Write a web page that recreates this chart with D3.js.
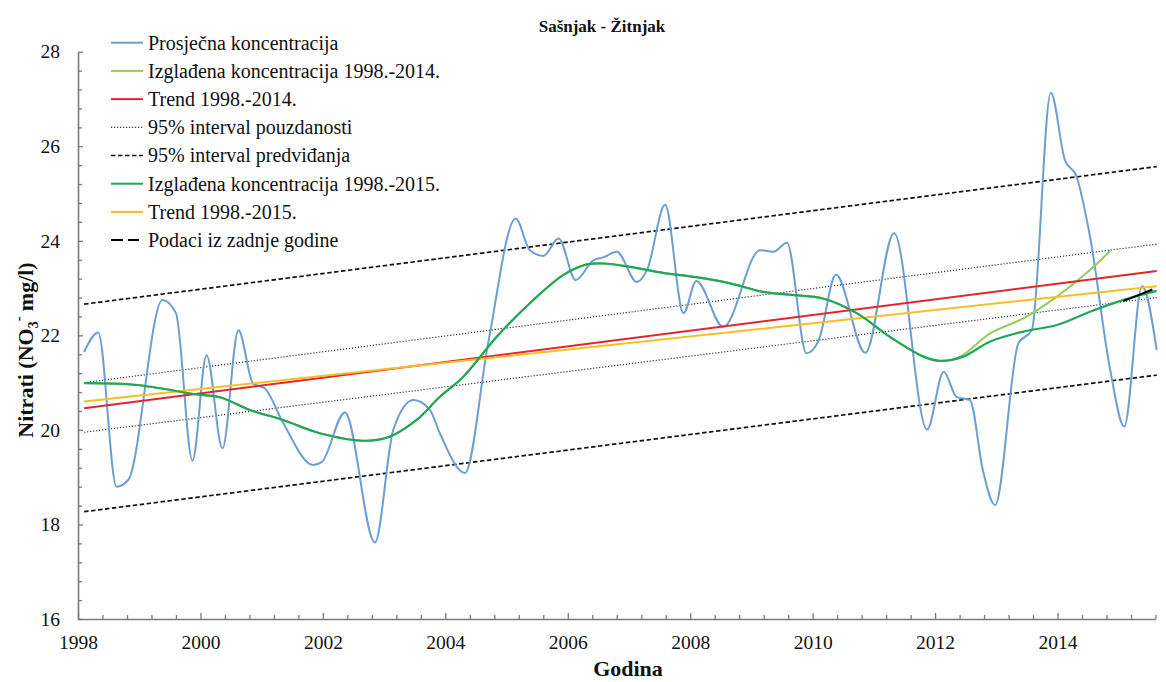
<!DOCTYPE html>
<html>
<head>
<meta charset="utf-8">
<script src="https://cdn.jsdelivr.net/npm/d3@7"></script>
<style>
  html, body { margin: 0; padding: 0; background: #fff; }
  svg { display: block; }
  svg text { font-family: "Liberation Serif", "Times New Roman", serif; }
</style>
</head>
<body>
<svg id="chart" width="1166" height="682" font-family="Liberation Serif, Times New Roman, serif"></svg>
<script>
// ---------------- DATA ----------------
const chartTitle = "Sašnjak - Žitnjak";
const xTitle = "Godina";
const xMajorTicks = [1998, 2000, 2002, 2004, 2006, 2008, 2010, 2012, 2014];
const yMajorTicks = [16, 18, 20, 22, 24, 26, 28];

// Prosječna koncentracija (year, mg/l)
const avgYears = [1998.10, 1998.33, 1998.63, 1998.82, 1999.38, 1999.60, 1999.87, 2000.10, 2000.36, 2000.62,
  2000.86, 2001.05, 2001.35, 2001.84, 2001.98, 2002.36, 2002.85, 2003.15, 2003.48, 2003.75, 2003.91,
  2004.32, 2004.70, 2005.15, 2005.38, 2005.60, 2005.85, 2006.13, 2006.42, 2006.58, 2006.80, 2007.13,
  2007.30, 2007.59, 2007.89, 2008.10, 2008.54, 2009.14, 2009.36, 2009.58, 2009.90, 2010.10, 2010.38,
  2010.86, 2011.33, 2011.87, 2012.14, 2012.35, 2012.57, 2012.78, 2012.98, 2013.36, 2013.58, 2013.89,
  2014.12, 2014.31, 2014.53, 2014.86, 2015.09, 2015.38, 2015.62];
const avgValues = [21.65, 22.06, 18.80, 18.94, 22.75, 22.47, 19.35, 21.58, 19.61, 22.11,
  20.98, 20.88, 20.15, 19.26, 19.32, 20.37, 17.62, 20.00, 20.63, 20.42, 19.93,
  19.09, 21.84, 24.47, 23.80, 23.68, 24.05, 23.17, 23.59, 23.65, 23.77, 23.13,
  23.40, 24.76, 22.47, 23.15, 22.18, 23.80, 23.77, 23.96, 21.62, 21.90, 23.28,
  21.63, 24.16, 20.01, 21.23, 20.70, 20.63, 19.15, 18.41, 21.83, 22.11, 27.13,
  25.71, 25.36, 24.09, 21.27, 20.07, 23.04, 21.69];

// Izglađena koncentracija 1998.-2015.
const smooth15Years = [1998.10, 1998.96, 1999.94, 2000.32, 2000.81, 2001.35, 2001.95, 2002.72, 2003.10, 2003.53,
  2003.91, 2004.29, 2004.84, 2005.38, 2005.93, 2006.31, 2006.58, 2007.02, 2007.56, 2008.10, 2008.65,
  2009.19, 2009.70, 2010.17, 2010.72, 2011.26, 2011.81, 2012.08, 2012.46, 2012.90, 2013.44, 2013.99,
  2014.53, 2015.08, 2015.62];
const smooth15Values = [20.99, 20.95, 20.75, 20.69, 20.42, 20.21, 19.93, 19.77, 19.86, 20.21,
  20.70, 21.12, 21.97, 22.68, 23.28, 23.50, 23.52, 23.45, 23.32, 23.23, 23.10,
  22.92, 22.85, 22.78, 22.47, 21.97, 21.55, 21.46, 21.55, 21.87, 22.08, 22.22,
  22.50, 22.75, 22.94];

// Izglađena koncentracija 1998.-2014. (coincides with the above until 2012.4)
const smooth14Years = [1998.10, 1998.96, 1999.94, 2000.32, 2000.81, 2001.35, 2001.95, 2002.72, 2003.10, 2003.53,
  2003.91, 2004.29, 2004.84, 2005.38, 2005.93, 2006.31, 2006.58, 2007.02, 2007.56, 2008.10, 2008.65,
  2009.19, 2009.70, 2010.17, 2010.72, 2011.26, 2011.81, 2012.08, 2012.41, 2012.90, 2013.44, 2013.99,
  2014.53, 2014.86];
const smooth14Values = [20.99, 20.95, 20.75, 20.69, 20.42, 20.21, 19.93, 19.77, 19.86, 20.21,
  20.70, 21.12, 21.97, 22.68, 23.28, 23.50, 23.52, 23.45, 23.32, 23.23, 23.10,
  22.92, 22.85, 22.78, 22.47, 21.97, 21.55, 21.46, 21.55, 22.04, 22.36, 22.82,
  23.38, 23.79];

// straight lines: [start, end] years and values
const lineYears = [1998.10, 2015.62];
const trend14Values = [20.46, 23.36];
const trend15Values = [20.60, 23.04];
const confUpperValues = [21.00, 23.93];
const confLowerValues = [19.95, 22.80];
const predUpperValues = [22.66, 25.57];
const predLowerValues = [18.27, 21.16];

// Podaci iz zadnje godine
const lastYearYears = [2015.08, 2015.30, 2015.55];
const lastYearValues = [22.73, 22.84, 22.97];

const legendLabels = [
  "Prosječna koncentracija",
  "Izglađena koncentracija 1998.-2014.",
  "Trend 1998.-2014.",
  "95% interval pouzdanosti",
  "95% interval predviđanja",
  "Izglađena koncentracija 1998.-2015.",
  "Trend 1998.-2015.",
  "Podaci iz zadnje godine"
];

// ---------------- STYLES ----------------
const FONT = "'Liberation Serif', 'Times New Roman', serif";
const C = {
  blue: "#6b9fd1",
  lightGreen: "#97cc5a",
  red: "#e4262c",
  dotted: "#333",
  dashed: "#111",
  green: "#1fa85b",
  yellow: "#f7be26",
  black: "#000"
};

// ---------------- CHART ----------------
const svg = d3.select("#chart");
const x = d3.scaleLinear().domain([1998, 2015.6]).range([78, 1155.5]);
const y = d3.scaleLinear().domain([16, 28]).range([619, 51.7]);

const zip = (xs, ys) => xs.map((d, i) => [d, ys[i]]);
const lineSmooth = d3.line().x(d => x(d[0])).y(d => y(d[1])).curve(d3.curveMonotoneX);
const lineCR = d3.line().x(d => x(d[0])).y(d => y(d[1])).curve(d3.curveCatmullRom.alpha(0.5));
const lineStraight = d3.line().x(d => x(d[0])).y(d => y(d[1]));

const plot = svg.append("g");

function straight(vals, color, width, dash) {
  plot.append("path").datum(zip(lineYears, vals))
    .attr("d", lineStraight).attr("fill", "none")
    .attr("stroke", color).attr("stroke-width", width)
    .attr("stroke-dasharray", dash || null);
}

// prediction & confidence intervals
straight(predUpperValues, C.dashed, 1.7, "4.5,2.5");
straight(predLowerValues, C.dashed, 1.7, "4.5,2.5");
straight(confUpperValues, C.dotted, 1.2, "1.2,1.8");
straight(confLowerValues, C.dotted, 1.2, "1.2,1.8");

// blue average
plot.append("path").datum(zip(avgYears, avgValues))
  .attr("d", lineSmooth).attr("fill", "none")
  .attr("stroke", C.blue).attr("stroke-width", 2);

// smoothed 1998-2014 (light green)
plot.append("path").datum(zip(smooth14Years, smooth14Values))
  .attr("d", lineCR).attr("fill", "none")
  .attr("stroke", C.lightGreen).attr("stroke-width", 2);

// trends
straight(trend14Values, C.red, 2);
straight(trend15Values, C.yellow, 2);

// smoothed 1998-2015 (green)
plot.append("path").datum(zip(smooth15Years, smooth15Values))
  .attr("d", lineCR).attr("fill", "none")
  .attr("stroke", C.green).attr("stroke-width", 2.2);

// last year data
plot.append("path").datum(zip(lastYearYears, lastYearValues))
  .attr("d", lineSmooth).attr("fill", "none")
  .attr("stroke", C.black).attr("stroke-width", 2);

// ---------------- AXES ----------------
const axisColor = "#7a7a7a";
const xMinor = d3.range(0, 45).map(i => 1998 + i * 0.4).filter(v => !xMajorTicks.some(m => Math.abs(m - v) < 1e-6));
const yMinor = d3.range(0, 31).map(i => 16 + i * 0.4).filter(v => !yMajorTicks.some(m => Math.abs(m - v) < 1e-6));

const gx = svg.append("g").attr("transform", "translate(0,619)");
gx.call(d3.axisBottom(x).tickValues(xMinor).tickSize(-4).tickSizeOuter(0).tickFormat(""));
const gx2 = svg.append("g").attr("transform", "translate(0,619)");
gx2.call(d3.axisBottom(x).tickValues(xMajorTicks).tickSize(-6).tickSizeOuter(0).tickPadding(16).tickFormat(d3.format("d")));
gx2.select(".domain").remove();

const gy = svg.append("g").attr("transform", "translate(78,0)");
gy.call(d3.axisLeft(y).tickValues(yMinor).tickSize(-4).tickSizeOuter(0).tickFormat(""));
const gy2 = svg.append("g").attr("transform", "translate(78,0)");
gy2.call(d3.axisLeft(y).tickValues(yMajorTicks).tickSize(-5).tickSizeOuter(0).tickPadding(18).tickFormat(d3.format("d")));
gy2.select(".domain").remove();

[gx, gx2, gy, gy2].forEach(g => {
  g.attr("font-family", FONT);
  g.selectAll(".domain").attr("stroke", axisColor).attr("stroke-width", 1.6);
  g.selectAll(".tick line").attr("stroke", axisColor).attr("stroke-width", 1.3);
  g.selectAll(".tick text").attr("fill", "#111").attr("font-size", 19.5).attr("font-family", FONT);
});

// ---------------- TITLES ----------------
svg.append("text").attr("x", 602).attr("y", 32).attr("text-anchor", "middle")
  .attr("font-family", FONT)
  .attr("font-weight", "bold").attr("font-size", 17).attr("fill", "#111").text(chartTitle);

svg.append("text").attr("x", 628).attr("y", 676).attr("text-anchor", "middle")
  .attr("font-family", FONT)
  .attr("font-weight", "bold").attr("font-size", 22).attr("fill", "#111").text(xTitle);

const yt = svg.append("text")
  .attr("transform", "translate(33,350) rotate(-90)")
  .attr("font-family", FONT)
  .attr("text-anchor", "middle").attr("font-weight", "bold").attr("font-size", 22).attr("fill", "#111");
yt.append("tspan").text("Nitrati (NO");
yt.append("tspan").attr("font-size", 14).attr("dy", 5).text("3");
yt.append("tspan").attr("font-size", 14).attr("dy", -15).text("-");
yt.append("tspan").attr("dy", 10).text(" mg/l)");

// ---------------- LEGEND ----------------
const legendStyles = [
  { color: C.blue, width: 2, dash: null },
  { color: C.lightGreen, width: 2, dash: null },
  { color: C.red, width: 2, dash: null },
  { color: C.dotted, width: 1.2, dash: "1.2,1.8" },
  { color: C.dashed, width: 1.7, dash: "4.5,2.5" },
  { color: C.green, width: 2, dash: null },
  { color: C.yellow, width: 2, dash: null },
  { color: C.black, width: 2, dash: "12,5" }
];
const leg = svg.append("g");
legendLabels.forEach((lab, i) => {
  const yy = 42.7 + i * 28.2;
  const st = legendStyles[i];
  leg.append("line").attr("x1", 111).attr("x2", i === 7 ? 139 : 143).attr("y1", yy).attr("y2", yy)
    .attr("stroke", st.color).attr("stroke-width", st.width).attr("stroke-dasharray", st.dash);
  leg.append("text").attr("x", 148).attr("y", yy).attr("dy", "0.34em")
    .attr("font-family", FONT)
    .attr("font-size", 20).attr("fill", "#111").text(lab);
});
</script>
</body>
</html>
